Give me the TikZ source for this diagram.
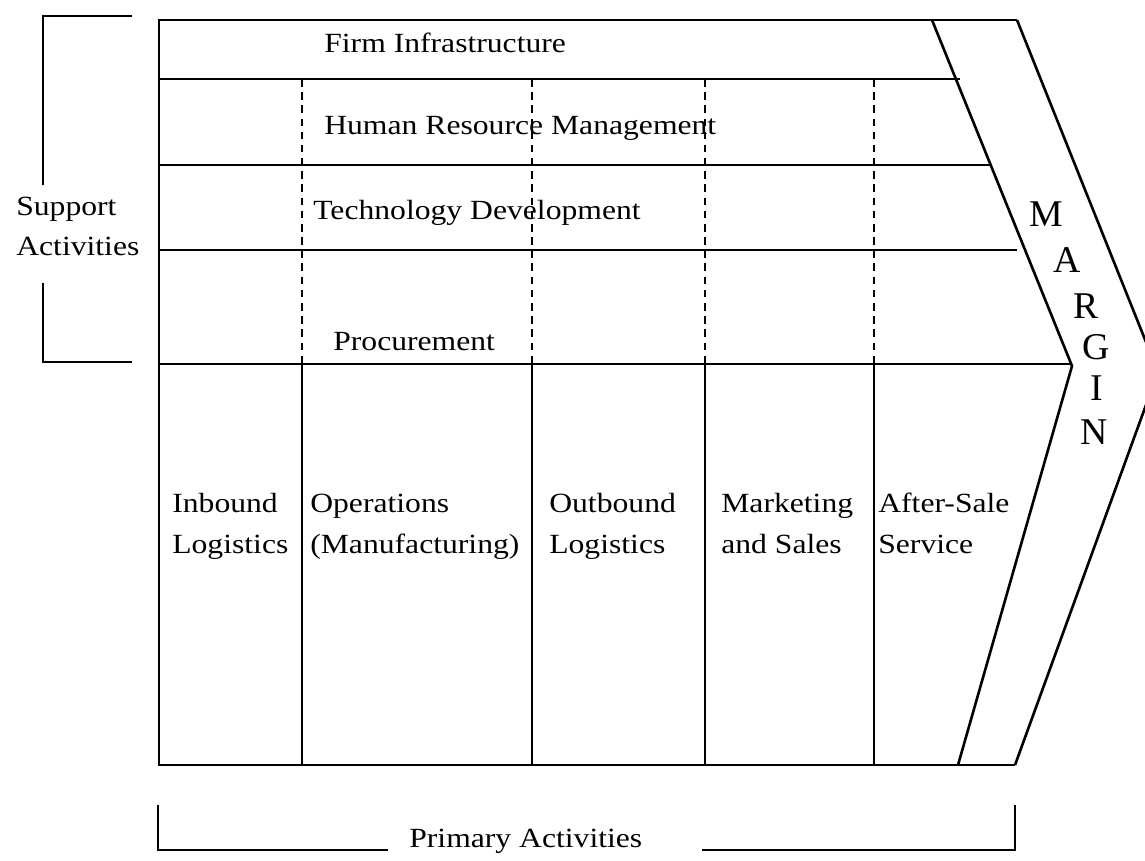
\documentclass[tikz,border=0pt]{standalone}
\usepackage{fontspec}
\setmainfont{Liberation Serif}[FakeStretch=1.14]
\newfontfamily\marginfont{Liberation Serif}

\begin{document}
\begin{tikzpicture}[x=0.02cm, y=-0.02cm,
    line width=1.5pt,
    label/.style={anchor=base west, align=left, inner sep=0pt,
        font=\fontsize{15.8}{22.8}\selectfont},
    letter/.style={inner sep=0pt, font=\marginfont\fontsize{21.5}{24}\selectfont},
    split/.style={line width=1.2pt, dash pattern=on 4.3pt off 3.2pt}]
    \useasboundingbox (0,0) rectangle (1145,861);

    \draw[black] (1017,20) -- (159,20) -- (159,765) -- (1015,765);
    \draw[black] (159,79) -- (960,79);
    \draw[black] (159,165) -- (991,165);
    \draw[black] (159,250) -- (1017,250);
    \draw[black] (159,364) -- (1072,364);

    \draw[black] (932,20) -- (1072,366) -- (958,765);
    \draw[black] (1017,20) -- (1158,372) -- (1015,765);

    \draw[black, split] (302,79) -- (302,364);
    \draw[black, split] (532,79) -- (532,364);
    \draw[black, split] (705,79) -- (705,364);
    \draw[black, split] (874,79) -- (874,364);

    \draw[black] (302,364) -- (302,765);
    \draw[black] (532,364) -- (532,765);
    \draw[black] (705,364) -- (705,765);
    \draw[black] (874,364) -- (874,765);

    \draw[black] (132,16) -- (43,16) -- (43,185);
    \draw[black] (43,283) -- (43,362) -- (132,362);
    \draw[black] (158,805) -- (158,850) -- (388,850);
    \draw[black] (702,850) -- (1015,850) -- (1015,805);

    \node[label] (firm) at (323,53) {Firm Infrastructure};
    \node[label] (hrm) at (323,135) {Human Resource Management};
    \node[label] (tech) at (312,220) {Technology Development};
    \node[label] (proc) at (332,350) {Procurement};

    \node[label] (inbound) at (171,553) {Inbound\\Logistics};
    \node[label] (ops) at (309,553) {Operations\\(Manufacturing)};
    \node[label] (outbound) at (548,553) {Outbound\\Logistics};
    \node[label] (sales) at (720,553) {Marketing\\and Sales};
    \node[label] (service) at (877,553) {After-Sale\\Service};

    \node[label] (support) at (15,256) {Support\\Activities};
    \node[label] (primary) at (408,847) {Primary Activities};

    \node[letter] (mM) at (1046,214) {M};
    \node[letter] (mA) at (1067,260) {A};
    \node[letter] (mR) at (1086,306) {R};
    \node[letter] (mG) at (1096,347) {G};
    \node[letter] (mI) at (1097,388) {I};
    \node[letter] (mN) at (1094,432) {N};
\end{tikzpicture}
\end{document}
